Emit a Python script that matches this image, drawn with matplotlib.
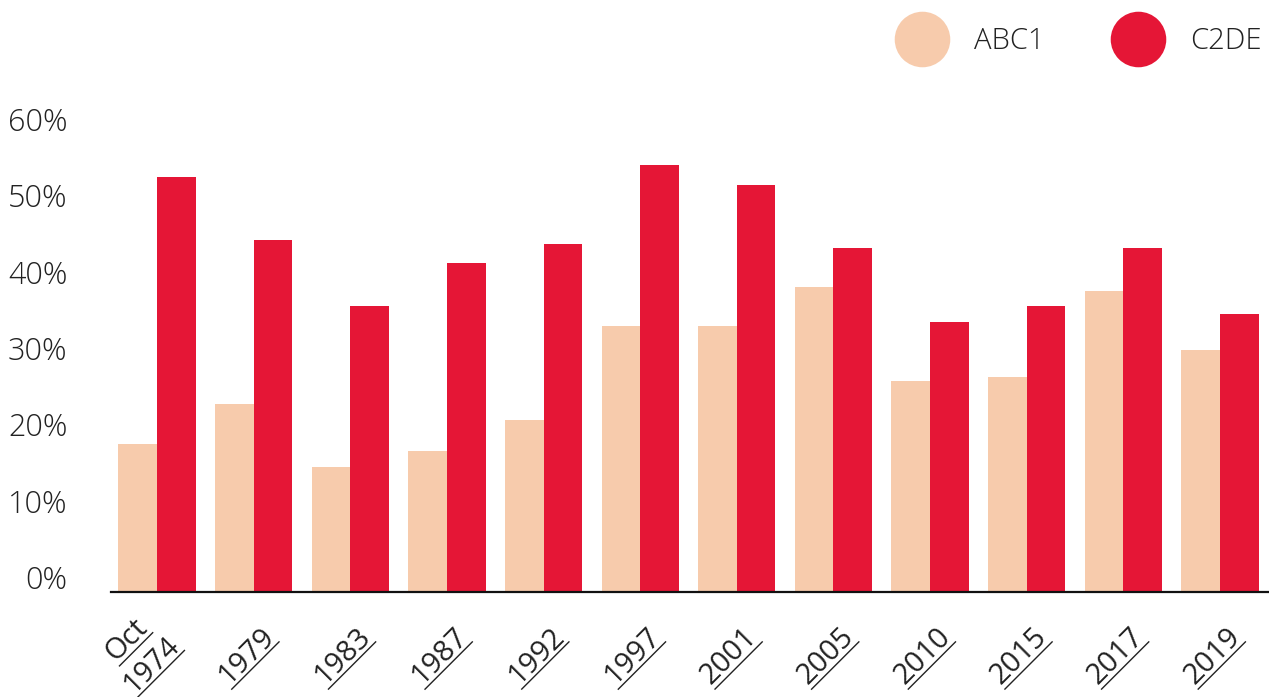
import matplotlib
matplotlib.use("Agg")
import matplotlib.pyplot as plt
import matplotlib.transforms as mtransforms
from matplotlib.font_manager import FontProperties
from matplotlib.lines import Line2D
import numpy as np

# data (percent)
years = ["Oct\n1974", "1979", "1983", "1987", "1992", "1997",
         "2001", "2005", "2010", "2015", "2017", "2019"]
abc1 = [19.4, 24.6, 16.4, 18.5, 22.5, 34.9, 34.9, 40.0, 27.6, 28.2, 39.4, 31.7]
c2de = [54.4, 46.1, 37.5, 43.1, 45.6, 55.9, 53.3, 45.1, 35.4, 37.5, 45.1, 36.4]
yticks = [0, 10, 20, 30, 40, 50, 60]

col_abc1 = "#F7CBAC"
col_c2de = "#E51636"
txt_col = "#222222"

plt.rcParams["font.family"] = ["Open Sans", "DejaVu Sans"]
plt.rcParams["font.weight"] = "light"

fig = plt.figure(figsize=(12.69, 6.97), dpi=100)
ax = fig.add_axes([111 / 1269, 105 / 697, 1 - 111 / 1269, 458 / 697])

x = np.arange(len(years))
w = 0.4
ax.bar(x - w / 2, abc1, width=w, color=col_abc1, linewidth=0, zorder=2)
ax.bar(x + w / 2, c2de, width=w, color=col_c2de, linewidth=0, zorder=2)

ax.set_xlim(-0.476, 11.507)
ax.set_ylim(0, 60)

for s in ["top", "right", "left"]:
    ax.spines[s].set_visible(False)
ax.spines["bottom"].set_color("#111111")
ax.spines["bottom"].set_linewidth(1.6)
ax.spines["bottom"].set_zorder(5)

# y labels sit just above their value line
ax.set_yticks(yticks)
ax.set_yticklabels([f"{v}%" for v in yticks])
ax.tick_params(axis="y", length=0, pad=31.5, labelsize=22, labelcolor=txt_col)
for lab in ax.get_yticklabels():
    lab.set_verticalalignment("bottom")
    lab.set_transform(lab.get_transform() + mtransforms.ScaledTranslation(0, -0.05, fig.dpi_scale_trans))

# year labels: rotated 45 deg, underlined, drawn in a local rotated frame (pixels)
ax.set_xticks(x)
ax.tick_params(axis="x", length=0, labelbottom=False)
renderer = fig.canvas.get_renderer()
fp = FontProperties(family=["Open Sans", "DejaVu Sans"], weight="normal", size=21)
base = mtransforms.blended_transform_factory(ax.transData, ax.transAxes)
line_gap = 35
for i, lab in enumerate(years):
    parts = lab.split("\n")
    n = len(parts)
    widths = [renderer.get_text_width_height_descent(p, fp, ismath=False)[0] for p in parts]
    wmax = max(widths)
    for k, (p, wl) in enumerate(zip(parts, widths)):
        lx = -(n - 1) * 4.6 - (wmax - wl) / 2
        ly = -(n - 1) * 7.5 + (n - 1 - k) * line_gap
        T = (mtransforms.Affine2D().translate(lx, ly).rotate_deg(45)
             + mtransforms.Affine2D().translate(21.5, -46)
             + mtransforms.ScaledTranslation(x[i], 0, base))
        ax.text(0, 0, p, transform=T, rotation=45, rotation_mode="anchor",
                ha="right", va="baseline", fontproperties=fp, color=txt_col, clip_on=False)
        ax.add_line(Line2D([-wl, 0], [-5.5, -5.5], transform=T, color=txt_col,
                           lw=1.0, clip_on=False))

handles = [Line2D([], [], marker="o", linestyle="none", markersize=40,
                  markerfacecolor=col_abc1, markeredgewidth=0),
           Line2D([], [], marker="o", linestyle="none", markersize=40,
                  markerfacecolor=col_c2de, markeredgewidth=0)]
leg = fig.legend(handles, ["ABC1", "C2DE"], loc="center right",
                 bbox_to_anchor=(1262 / 1269, 1 - 41 / 697), ncol=2, frameon=False,
                 fontsize=21, handlelength=2.0, handletextpad=0.8, columnspacing=2.2,
                 borderpad=0, borderaxespad=0)
for t in leg.get_texts():
    t.set_color(txt_col)

fig.savefig("out.png", dpi=100)
